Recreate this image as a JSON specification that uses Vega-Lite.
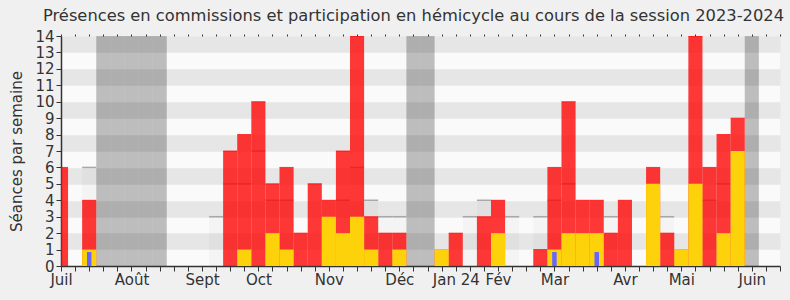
{
  "$schema": "https://vega.github.io/schema/vega-lite/v6.json",
  "width": 719,
  "height": 230,
  "autosize": {"type": "none"},
  "padding": {"left": 61, "top": 36, "right": 10, "bottom": 34},
  "background": "#f0f0f0",
  "title": {"text": "Présences en commissions et participation en hémicycle au cours de la session 2023-2024", "font": "DejaVu Sans", "fontSize": 16.3, "fontWeight": "normal", "color": "#333333", "anchor": "middle", "offset": 5, "dx": -7},
  "config": {"view": {"fill": "#fafafa", "stroke": null}, "font": "DejaVu Sans"},
  "data": {"values": [
    {"semaine": 0, "presence": 6, "interventions": 0, "hemicycle": 0, "mediane": 0, "vacances": false},
    {"semaine": 1, "presence": 0, "interventions": 0, "hemicycle": 0, "mediane": 0, "vacances": false},
    {"semaine": 2, "presence": 4, "interventions": 1, "hemicycle": 0.85, "mediane": 6, "vacances": false},
    {"semaine": 3, "presence": 0, "interventions": 0, "hemicycle": 0, "mediane": 0, "vacances": true},
    {"semaine": 4, "presence": 0, "interventions": 0, "hemicycle": 0, "mediane": 0, "vacances": true},
    {"semaine": 5, "presence": 0, "interventions": 0, "hemicycle": 0, "mediane": 0, "vacances": true},
    {"semaine": 6, "presence": 0, "interventions": 0, "hemicycle": 0, "mediane": 0, "vacances": true},
    {"semaine": 7, "presence": 0, "interventions": 0, "hemicycle": 0, "mediane": 0, "vacances": true},
    {"semaine": 8, "presence": 0, "interventions": 0, "hemicycle": 0, "mediane": 0, "vacances": false},
    {"semaine": 9, "presence": 0, "interventions": 0, "hemicycle": 0, "mediane": 0, "vacances": false},
    {"semaine": 10, "presence": 0, "interventions": 0, "hemicycle": 0, "mediane": 0, "vacances": false},
    {"semaine": 11, "presence": 0, "interventions": 0, "hemicycle": 0, "mediane": 3, "vacances": false},
    {"semaine": 12, "presence": 7, "interventions": 0, "hemicycle": 0, "mediane": 5, "vacances": false},
    {"semaine": 13, "presence": 8, "interventions": 1, "hemicycle": 0, "mediane": 5, "vacances": false},
    {"semaine": 14, "presence": 10, "interventions": 0, "hemicycle": 0, "mediane": 7, "vacances": false},
    {"semaine": 15, "presence": 5, "interventions": 2, "hemicycle": 0, "mediane": 4, "vacances": false},
    {"semaine": 16, "presence": 6, "interventions": 1, "hemicycle": 0, "mediane": 4, "vacances": false},
    {"semaine": 17, "presence": 2, "interventions": 0, "hemicycle": 0, "mediane": 0, "vacances": false},
    {"semaine": 18, "presence": 5, "interventions": 0, "hemicycle": 0, "mediane": 0, "vacances": false},
    {"semaine": 19, "presence": 4, "interventions": 3, "hemicycle": 0, "mediane": 0, "vacances": false},
    {"semaine": 20, "presence": 7, "interventions": 2, "hemicycle": 0, "mediane": 4, "vacances": false},
    {"semaine": 21, "presence": 14, "interventions": 3, "hemicycle": 0, "mediane": 6, "vacances": false},
    {"semaine": 22, "presence": 3, "interventions": 1, "hemicycle": 0, "mediane": 4, "vacances": false},
    {"semaine": 23, "presence": 2, "interventions": 0, "hemicycle": 0, "mediane": 3, "vacances": false},
    {"semaine": 24, "presence": 2, "interventions": 1, "hemicycle": 0, "mediane": 3, "vacances": false},
    {"semaine": 25, "presence": 0, "interventions": 0, "hemicycle": 0, "mediane": 0, "vacances": true},
    {"semaine": 26, "presence": 0, "interventions": 0, "hemicycle": 0, "mediane": 0, "vacances": true},
    {"semaine": 27, "presence": 1, "interventions": 1, "hemicycle": 0, "mediane": 0, "vacances": false},
    {"semaine": 28, "presence": 2, "interventions": 0, "hemicycle": 0, "mediane": 0, "vacances": false},
    {"semaine": 29, "presence": 0, "interventions": 0, "hemicycle": 0, "mediane": 3, "vacances": false},
    {"semaine": 30, "presence": 3, "interventions": 0, "hemicycle": 0, "mediane": 4, "vacances": false},
    {"semaine": 31, "presence": 4, "interventions": 2, "hemicycle": 0, "mediane": 0, "vacances": false},
    {"semaine": 32, "presence": 0, "interventions": 0, "hemicycle": 0, "mediane": 3, "vacances": false},
    {"semaine": 33, "presence": 0, "interventions": 0, "hemicycle": 0, "mediane": 0, "vacances": false},
    {"semaine": 34, "presence": 1, "interventions": 0, "hemicycle": 0, "mediane": 3, "vacances": false},
    {"semaine": 35, "presence": 6, "interventions": 1, "hemicycle": 0.85, "mediane": 4, "vacances": false},
    {"semaine": 36, "presence": 10, "interventions": 2, "hemicycle": 0, "mediane": 5, "vacances": false},
    {"semaine": 37, "presence": 4, "interventions": 2, "hemicycle": 0, "mediane": 0, "vacances": false},
    {"semaine": 38, "presence": 4, "interventions": 2, "hemicycle": 0.85, "mediane": 0, "vacances": false},
    {"semaine": 39, "presence": 2, "interventions": 0, "hemicycle": 0, "mediane": 3, "vacances": false},
    {"semaine": 40, "presence": 4, "interventions": 0, "hemicycle": 0, "mediane": 0, "vacances": false},
    {"semaine": 41, "presence": 0, "interventions": 0, "hemicycle": 0, "mediane": 0, "vacances": false},
    {"semaine": 42, "presence": 6, "interventions": 5, "hemicycle": 0, "mediane": 0, "vacances": false},
    {"semaine": 43, "presence": 2, "interventions": 0, "hemicycle": 0, "mediane": 3, "vacances": false},
    {"semaine": 44, "presence": 1, "interventions": 1, "hemicycle": 0, "mediane": 0, "vacances": false},
    {"semaine": 45, "presence": 14, "interventions": 5, "hemicycle": 0, "mediane": 0, "vacances": false},
    {"semaine": 46, "presence": 6, "interventions": 0, "hemicycle": 0, "mediane": 4, "vacances": false},
    {"semaine": 47, "presence": 8, "interventions": 2, "hemicycle": 0, "mediane": 5, "vacances": false},
    {"semaine": 48, "presence": 9, "interventions": 7, "hemicycle": 0, "mediane": 0, "vacances": false},
    {"semaine": 49, "presence": 0, "interventions": 0, "hemicycle": 0, "mediane": 0, "vacances": true},
    {"semaine": 50, "presence": 0, "interventions": 0, "hemicycle": 0, "mediane": 0, "vacances": false},
    {"semaine": 51, "presence": 0, "interventions": 0, "hemicycle": 0, "mediane": 0, "vacances": false}
  ]},
  "layer": [
    {
      "transform": [{"filter": "datum.mediane > 0"}],
      "mark": {"type": "bar", "orient": "vertical", "size": 14.1, "color": "#000000", "opacity": 0.025, "clip": true},
      "encoding": {
        "x": {"field": "semaine", "type": "quantitative", "scale": {"domain": [0, 51], "nice": false, "zero": false, "padding": 0},
              "axis": {"orient": "top", "values": [0,1,2,3,4,5,6,7,8,9,10,11,12,13,14,15,16,17,18,19,20,21,22,23,24,25,26,27,28,29,30,31,32,33,34,35,36,37,38,39,40,41,42,43,44,45,46,47,48,49,50,51], "labels": false, "domain": false, "ticks": true, "tickSize": 2, "tickColor": "#333333", "title": null, "grid": false}},
        "y": {"field": "mediane", "type": "quantitative", "scale": {"domain": [0, 14], "nice": false, "padding": 0},
              "axis": {"orient": "right", "values": [1.5,3.5,5.5,7.5,9.5,11.5,13.5], "labels": false, "ticks": false, "domain": false, "title": null, "grid": true, "gridColor": "#e6e6e6", "gridWidth": 16.43, "gridOpacity": 1}}
      }
    },
    {
      "transform": [{"filter": "datum.vacances"}],
      "mark": {"type": "bar", "orient": "vertical", "size": 14.1, "color": "#000000", "opacity": 0.245, "clip": true},
      "encoding": {
        "x": {"field": "semaine", "type": "quantitative", "axis": null},
        "y": {"datum": 14, "axis": null},
        "y2": {"datum": 0}
      }
    },
    {
      "transform": [{"filter": "datum.mediane > 0"}],
      "mark": {"type": "tick", "orient": "horizontal", "size": 14.1, "thickness": 1.5, "color": "#a8a8a8", "opacity": 1, "clip": true},
      "encoding": {
        "x": {"field": "semaine", "type": "quantitative", "axis": null},
        "y": {"field": "mediane", "type": "quantitative", "axis": null}
      }
    },
    {
      "transform": [{"filter": "datum.presence > 0"}],
      "mark": {"type": "bar", "orient": "vertical", "size": 14.1, "color": "#ff0000", "opacity": 0.78, "clip": true},
      "encoding": {
        "x": {"field": "semaine", "type": "quantitative",
              "axis": {"orient": "bottom", "values": [0,1,2,3,4,5,6,7,8,9,10,11,12,13,14,15,16,17,18,19,20,21,22,23,24,25,26,27,28,29,30,31,32,33,34,35,36,37,38,39,40,41,42,43,44,45,46,47,48,49,50,51],
                       "labelExpr": "datum.value == 0 ? 'Juil' : datum.value == 5 ? 'Août' : datum.value == 10 ? 'Sept' : datum.value == 14 ? 'Oct' : datum.value == 19 ? 'Nov' : datum.value == 24 ? 'Déc' : datum.value == 28 ? 'Jan 24' : datum.value == 31 ? 'Fév' : datum.value == 35 ? 'Mar' : datum.value == 40 ? 'Avr' : datum.value == 44 ? 'Mai' : datum.value == 49 ? 'Juin' : ''",
                       "labelOverlap": false, "labelBound": false, "labelFlush": false, "labelFontSize": 15, "labelColor": "#333333", "labelPadding": 1,
                       "tickSize": 5, "tickColor": "#333333", "domainColor": "#333333", "domainWidth": 1.5, "title": null, "grid": false}},
        "y": {"field": "presence", "type": "quantitative",
              "axis": {"orient": "left", "values": [0,1,2,3,4,5,6,7,8,9,10,11,12,13,14], "labelFontSize": 15, "labelColor": "#333333", "labelPadding": 2, "tickSize": 5, "tickColor": "#333333", "domainColor": "#333333", "domainWidth": 1.5, "grid": false,
                       "title": "Séances par semaine", "titleFontSize": 15, "titleFontWeight": "normal", "titleColor": "#333333", "titlePadding": 10}}
      }
    },
    {
      "transform": [{"filter": "datum.presence > datum.interventions"}],
      "mark": {"type": "tick", "orient": "horizontal", "size": 14.1, "thickness": 1, "color": "#ff0000", "clip": true},
      "encoding": {
        "x": {"field": "semaine", "type": "quantitative", "axis": null},
        "y": {"field": "presence", "type": "quantitative", "axis": null}
      }
    },
    {
      "transform": [{"filter": "datum.interventions > 0"}],
      "mark": {"type": "bar", "orient": "vertical", "size": 14.1, "color": "#fdd20a", "clip": true},
      "encoding": {
        "x": {"field": "semaine", "type": "quantitative", "axis": null},
        "y": {"field": "interventions", "type": "quantitative", "axis": null}
      }
    },
    {
      "transform": [{"filter": "datum.hemicycle > 0"}],
      "mark": {"type": "bar", "orient": "vertical", "size": 4.5, "color": "#6666ff", "clip": true},
      "encoding": {
        "x": {"field": "semaine", "type": "quantitative", "axis": null},
        "y": {"field": "hemicycle", "type": "quantitative", "axis": null}
      }
    }
  ]
}
